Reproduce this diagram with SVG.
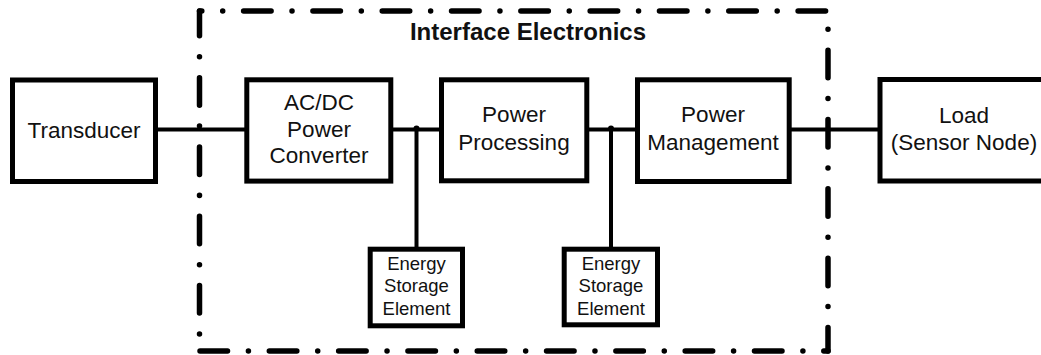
<svg xmlns="http://www.w3.org/2000/svg" width="1041" height="355" viewBox="0 0 1041 355">
<defs>
<style>
.box{fill:#fff;stroke:#000;stroke-width:5}
.wire{stroke:#000;stroke-width:4;fill:none}
.dd{stroke:#000;stroke-width:5.5;fill:none;stroke-linecap:round;stroke-dasharray:27.5 20.9 0.01 20.9}
.t{font-family:"Liberation Sans",Arial,sans-serif;font-size:22.5px;fill:#111;text-anchor:middle}
.s{font-family:"Liberation Sans",Arial,sans-serif;font-size:18.5px;fill:#111;text-anchor:middle}
.h{font-family:"Liberation Sans",Arial,sans-serif;font-size:24px;font-weight:bold;fill:#111;text-anchor:middle}
</style>
</defs>
<rect width="1041" height="355" fill="#fff"/>
<g id="boundary">
<path class="dd" d="M199.5,11 H828" stroke-dashoffset="25.2"/>
<path class="dd" d="M828,11 V351" stroke-dashoffset="30.1"/>
<path class="dd" d="M828,351 H199.5" stroke-dashoffset="23.3"/>
<path class="dd" d="M199.5,351 V11" stroke-dashoffset="31.4"/>
<text class="h" x="528" y="40">Interface Electronics</text>
</g>
<g id="connectors">
<line class="wire" x1="155" y1="129.5" x2="247" y2="129.5"/>
<line class="wire" x1="391" y1="129.5" x2="442" y2="129.5"/>
<line class="wire" x1="587" y1="129.5" x2="638" y2="129.5"/>
<line class="wire" x1="789" y1="129.5" x2="880" y2="129.5"/>
<line class="wire" x1="416.5" y1="129.5" x2="416.5" y2="249"/>
<line class="wire" x1="611" y1="129.5" x2="611" y2="249"/>
<circle cx="416.5" cy="128.5" r="3" fill="#000"/>
<circle cx="611" cy="128.5" r="3" fill="#000"/>
</g>
<g id="transducer">
<rect class="box" x="12.5" y="80" width="143" height="101.5"/>
<text class="t" x="84" y="137.5">Transducer</text>
</g>
<g id="acdc">
<rect class="box" x="246.8" y="79.8" width="144" height="101.3"/>
<text class="t" x="319" y="110">AC/DC</text>
<text class="t" x="319" y="136.7">Power</text>
<text class="t" x="319" y="163.3">Converter</text>
</g>
<g id="processing">
<rect class="box" x="441.5" y="79.8" width="145.3" height="101"/>
<text class="t" x="514" y="121.7">Power</text>
<text class="t" x="514" y="150">Processing</text>
</g>
<g id="management">
<rect class="box" x="637.5" y="79.8" width="151.7" height="101.7"/>
<text class="t" x="713" y="122.3">Power</text>
<text class="t" x="713" y="150">Management</text>
</g>
<g id="load">
<rect class="box" x="880" y="79.5" width="175" height="101.5"/>
<text class="t" x="964" y="123.3">Load</text>
<text class="t" x="964" y="150">(Sensor Node)</text>
</g>
<g id="storage1">
<rect class="box" x="370.2" y="249.2" width="92.3" height="76.6"/>
<text class="s" x="416.5" y="270">Energy</text>
<text class="s" x="416.5" y="292">Storage</text>
<text class="s" x="416.5" y="314.5">Element</text>
</g>
<g id="storage2">
<rect class="box" x="564.2" y="249.2" width="93.3" height="75.6"/>
<text class="s" x="611" y="270">Energy</text>
<text class="s" x="611" y="292">Storage</text>
<text class="s" x="611" y="314.5">Element</text>
</g>
</svg>
